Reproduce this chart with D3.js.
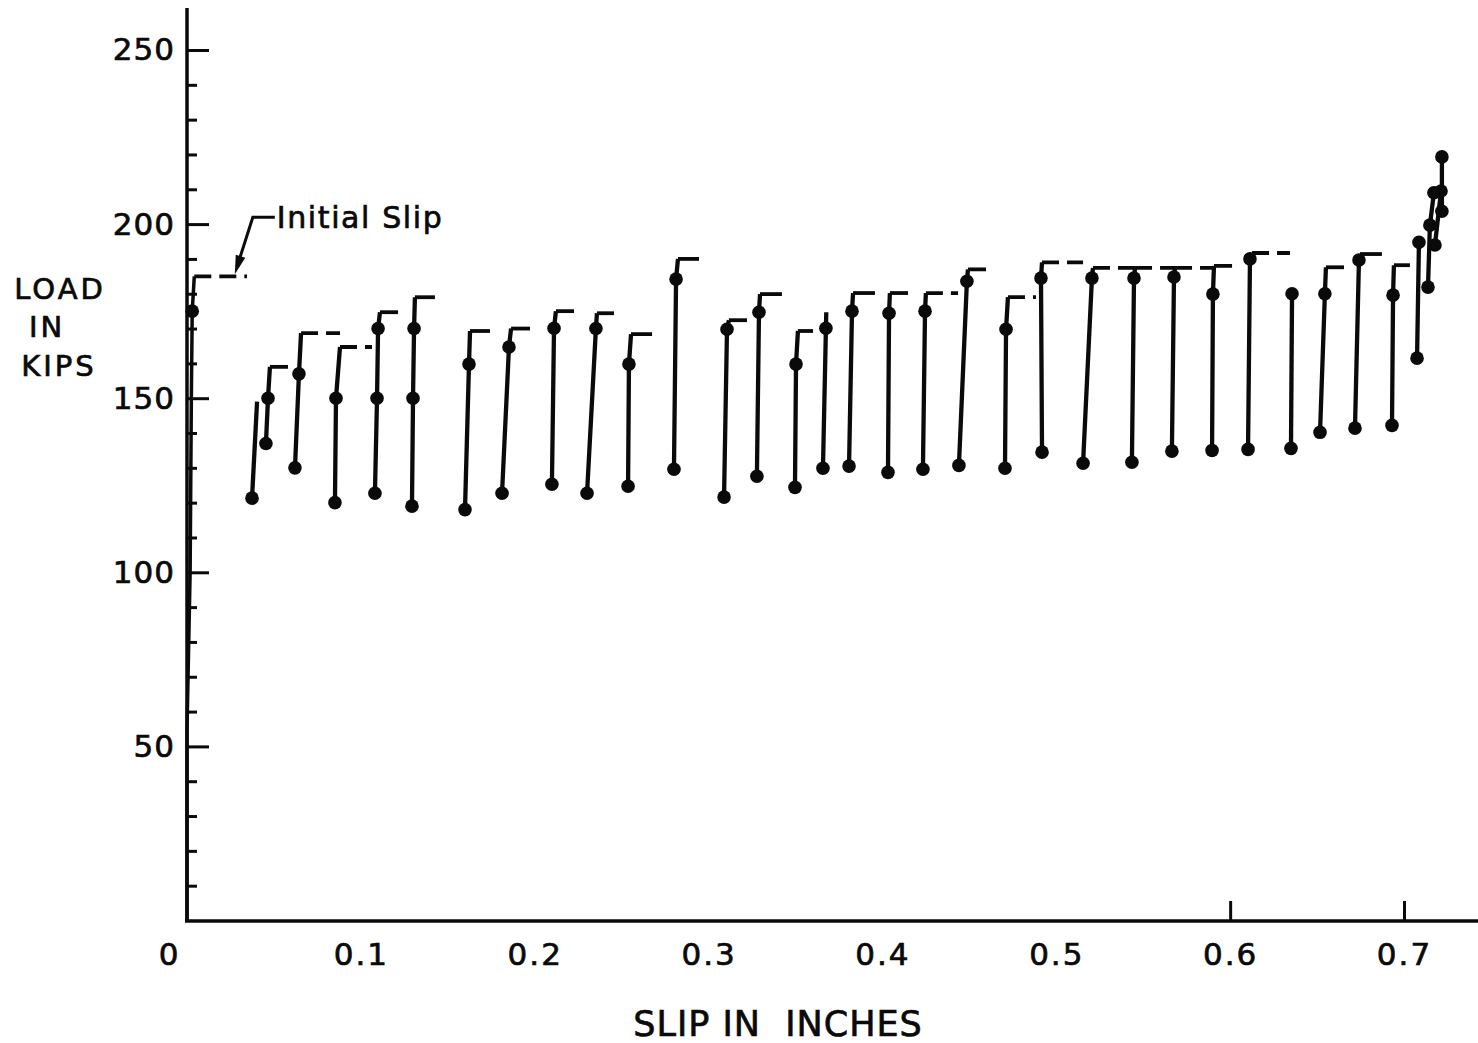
<!DOCTYPE html>
<html>
<head>
<meta charset="utf-8">
<script src="https://cdn.jsdelivr.net/npm/d3@7"></script>
<style>
  html, body { margin: 0; padding: 0; background: #fff; }
  svg { display: block; }
</style>
</head>
<body>
<svg id="chart" width="1478" height="1043"></svg>
<script>
// ---------------- DATA ----------------
// Each cycle: slip (in), load (kips), dot flag (1 = plotted point)
const cycleSlips = [
  [0, 0, 0.0018, 0.0025, 0.003, 0.0042],
  [0.0374, 0.0403],
  [0.0454, 0.0466, 0.0477],
  [0.0621, 0.0644, 0.0656],
  [0.0851, 0.0857, 0.0880],
  [0.1081, 0.1093, 0.1099, 0.1110],
  [0.1294, 0.1300, 0.1306, 0.1311],
  [0.1599, 0.1622, 0.1628],
  [0.1812, 0.1852, 0.1864],
  [0.2099, 0.2111, 0.2122],
  [0.2301, 0.2352, 0.2358],
  [0.2537, 0.2542, 0.2554],
  [0.2801, 0.2813, 0.2824],
  [0.3089, 0.3106, 0.3117],
  [0.3278, 0.3290, 0.3296],
  [0.3497, 0.3503, 0.3514],
  [0.3658, 0.3675, 0.3677],
  [0.3808, 0.3825, 0.3831],
  [0.4032, 0.4038, 0.4043],
  [0.4233, 0.4245, 0.4250],
  [0.4440, 0.4486, 0.4492],
  [0.4705, 0.4711, 0.4722],
  [0.4918, 0.4912, 0.4918],
  [0.5154, 0.5205, 0.5211],
  [0.5435, 0.5447, 0.5453],
  [0.5665, 0.5677, 0.5683],
  [0.5896, 0.5901, 0.5907],
  [0.6103, 0.6114, 0.6126],
  [0.6350, 0.6356],
  [0.6517, 0.6545, 0.6551],
  [0.6718, 0.6741, 0.6747],
  [0.6931, 0.6937, 0.6942],
  [0.7075, 0.7086],
  [0.7138, 0.7149, 0.7172],
  [0.7178, 0.7213],
  [0.7218, 0.7218]
];
const cycleLoads = [
  [0, 55, 100, 150, 175, 185],
  [121.3, 149],
  [137, 150, 159],
  [130, 157, 168.7],
  [120, 150, 164.7],
  [122.7, 150, 170, 174.7],
  [119, 150, 170, 179],
  [118, 159.8, 169.3],
  [122.7, 164.7, 170],
  [125.3, 170.1, 175],
  [122.7, 170, 174.4],
  [124.7, 159.8, 168.4],
  [129.6, 184.2, 190],
  [121.6, 169.8, 172.4],
  [127.6, 174.7, 179.9],
  [124.4, 159.8, 169.3],
  [129.9, 170.1, 174.7],
  [130.5, 175, 180.2],
  [128.7, 174.4, 180.2],
  [129.6, 175, 180.2],
  [130.7, 183.6, 187],
  [129.9, 169.8, 179],
  [134.5, 184.5, 189],
  [131.3, 184.5, 187.4],
  [131.6, 184.5, 187.4],
  [134.8, 184.8, 187.4],
  [135, 179.9, 188],
  [135.3, 190, 191.7],
  [135.6, 180],
  [140.2, 180, 187.6],
  [141.4, 189.7, 191.4],
  [142.2, 179.6, 188.2],
  [161.5, 194.8],
  [181.9, 199.7, 209],
  [194, 209.5],
  [203.7, 219.3]
];
const cycleDots = [
  [0, 0, 0, 0, 1, 0],
  [1, 0],
  [1, 1, 0],
  [1, 1, 0],
  [1, 1, 0],
  [1, 1, 1, 0],
  [1, 1, 1, 0],
  [1, 1, 0],
  [1, 1, 0],
  [1, 1, 0],
  [1, 1, 0],
  [1, 1, 0],
  [1, 1, 0],
  [1, 1, 0],
  [1, 1, 0],
  [1, 1, 0],
  [1, 1, 0],
  [1, 1, 0],
  [1, 1, 0],
  [1, 1, 0],
  [1, 1, 0],
  [1, 1, 0],
  [1, 1, 0],
  [1, 1, 0],
  [1, 1, 0],
  [1, 1, 0],
  [1, 1, 0],
  [1, 1, 0],
  [1, 1],
  [1, 1, 0],
  [1, 1, 0],
  [1, 1, 0],
  [1, 1],
  [1, 1, 1],
  [1, 1],
  [1, 1]
];
// Slip at the end of the constant-load plateau after each peak (null = none)
const plateauEnd = [
  0.0345, null, 0.0581, 0.0880, 0.1064, 0.1214, 0.1426, 0.1743, 0.1973, 0.2226,
  0.2456, 0.2675, 0.2945, 0.3221, 0.3422, 0.3601, null, 0.3957, 0.4147, 0.4435,
  0.4596, 0.4883, 0.5154, 0.5453, 0.5683, 0.5901, 0.6011, 0.6344, null, 0.6655,
  0.6873, 0.7034, null, null, null, null
];
const plateauDashed = [
  1, 0, 0, 1, 1, 0, 0, 0, 0, 0,
  0, 0, 0, 0, 0, 0, 0, 0, 0, 1,
  0, 1, 1, 1, 1, 1, 0, 1, 0, 0,
  0, 0, 0, 0, 0, 0
];

const xTickValues = [0, 0.1, 0.2, 0.3, 0.4, 0.5, 0.6, 0.7];
const xTickLabels = ["0", "0.1", "0.2", "0.3", "0.4", "0.5", "0.6", "0.7"];
const xTickMarks = [0.6, 0.7];
const yMajorTicks = [50, 100, 150, 200, 250];
const yMinorTicks = [10, 20, 30, 40, 60, 70, 80, 90, 110, 120, 130, 140, 160, 170, 180, 190, 210, 220, 230, 240];

const annotationText = "Initial Slip";
const annotationSlip = 0.0275;   // where the arrow points
const annotationLoad = 185;
const xTitle = "SLIP IN  INCHES";
const yTitleLines = ["LOAD", "IN", "KIPS"];

// ---------------- CHART ----------------
const svg = d3.select("#chart");
const FONT = "'DejaVu Sans', sans-serif";
const INK = "#0a0a0a";
const TEXT_STROKE = 0.7;

svg.append("rect").attr("width", 1478).attr("height", 1043).attr("fill", "#fff");

const x = d3.scaleLinear().domain([0, 0.7]).range([187, 1404]);
const y = d3.scaleLinear().domain([0, 250]).range([920.5, 50]);

function inkText(sel) {
  sel.attr("fill", INK).attr("stroke", INK).attr("stroke-width", TEXT_STROKE)
     .attr("font-family", FONT);
}

// axis lines
svg.append("line").attr("x1", 187).attr("x2", 187).attr("y1", 922).attr("y2", 8)
  .attr("stroke", INK).attr("stroke-width", 3.5);
svg.append("line").attr("x1", 185).attr("x2", 1478).attr("y1", 921).attr("y2", 921)
  .attr("stroke", INK).attr("stroke-width", 3.5);

// y axis major ticks + labels
const yMajor = svg.append("g").attr("transform", "translate(187,0)")
  .call(d3.axisLeft(y).tickValues(yMajorTicks).tickSizeInner(-22).tickSizeOuter(0).tickPadding(12));
yMajor.select(".domain").remove();
yMajor.selectAll(".tick line").attr("stroke", INK).attr("stroke-width", 3);
yMajor.selectAll(".tick text").call(inkText).attr("font-size", 31).attr("letter-spacing", 1);

// y axis minor ticks
const yMinor = svg.append("g").attr("transform", "translate(187,0)")
  .call(d3.axisLeft(y).tickValues(yMinorTicks).tickSizeInner(-10).tickSizeOuter(0).tickFormat(""));
yMinor.select(".domain").remove();
yMinor.selectAll(".tick line").attr("stroke", INK).attr("stroke-width", 3);

// x axis labels
const xAx = svg.append("g").attr("transform", "translate(0,921)")
  .call(d3.axisBottom(x).tickValues(xTickValues).tickSize(0).tickPadding(22)
    .tickFormat((d, i) => xTickLabels[i]));
xAx.select(".domain").remove();
xAx.selectAll(".tick text").call(inkText).attr("font-size", 31).attr("letter-spacing", 2)
  .attr("dx", d => d === 0 ? -18 : 0);

// x axis tick marks (only drawn at 0.6 and 0.7)
const xMarks = svg.append("g").attr("transform", "translate(0,921)")
  .call(d3.axisTop(x).tickValues(xTickMarks).tickSize(20).tickFormat(""));
xMarks.select(".domain").remove();
xMarks.selectAll(".tick line").attr("stroke", INK).attr("stroke-width", 3);

// titles
svg.append("text").attr("x", 778).attr("y", 1036).attr("text-anchor", "middle")
  .call(inkText).attr("font-size", 35).attr("letter-spacing", 1)
  .style("white-space", "pre").text(xTitle);

const yTitleX = [60, 47, 59];
const yTitleY = [299, 337, 376];
yTitleLines.forEach((t, i) => {
  svg.append("text").attr("x", yTitleX[i]).attr("y", yTitleY[i]).attr("text-anchor", "middle")
    .call(inkText).attr("font-size", 29).attr("letter-spacing", 3).text(t);
});

// data
const line = d3.line().x(d => x(d[0])).y(d => y(d[1]));
const gData = svg.append("g");

cycleSlips.forEach((slips, i) => {
  const pts = slips.map((s, j) => [s, cycleLoads[i][j]]);
  gData.append("path").attr("d", line(pts)).attr("fill", "none")
    .attr("stroke", INK).attr("stroke-width", i === 0 ? 3.5 : 4.3).attr("stroke-linejoin", "round");
  if (plateauEnd[i] !== null) {
    const last = pts[pts.length - 1];
    gData.append("path").attr("d", line([last, [plateauEnd[i], last[1]]]))
      .attr("fill", "none").attr("stroke", INK).attr("stroke-width", 3.8)
      .attr("stroke-dasharray", plateauDashed[i] ? "17,8" : null);
  }
  pts.forEach((p, j) => {
    if (cycleDots[i][j]) {
      gData.append("circle").attr("cx", x(p[0])).attr("cy", y(p[1])).attr("r", 6.8).attr("fill", INK);
    }
  });
});

// annotation: "Initial Slip" with arrow
const tipX = x(annotationSlip), tipY = y(annotationLoad) - 2;
const elbowX = tipX + 18, elbowY = tipY - 57;
svg.append("path")
  .attr("d", `M${elbowX + 22},${elbowY} L${elbowX},${elbowY} L${tipX + 3},${tipY - 10}`)
  .attr("fill", "none").attr("stroke", INK).attr("stroke-width", 3);
{
  const dx = tipX - elbowX, dy = tipY - elbowY, L = Math.hypot(dx, dy);
  const ux = dx / L, uy = dy / L, px = -uy, py = ux;
  const bx = tipX - 19 * ux, by = tipY - 19 * uy;
  svg.append("path")
    .attr("d", `M${tipX},${tipY} L${bx + 5 * px},${by + 5 * py} L${bx - 5 * px},${by - 5 * py} Z`)
    .attr("fill", INK);
}
svg.append("text").attr("x", elbowX + 24).attr("y", elbowY + 11)
  .call(inkText).attr("font-size", 30).attr("letter-spacing", 1.6)
  .text(annotationText);
</script>
</body>
</html>
